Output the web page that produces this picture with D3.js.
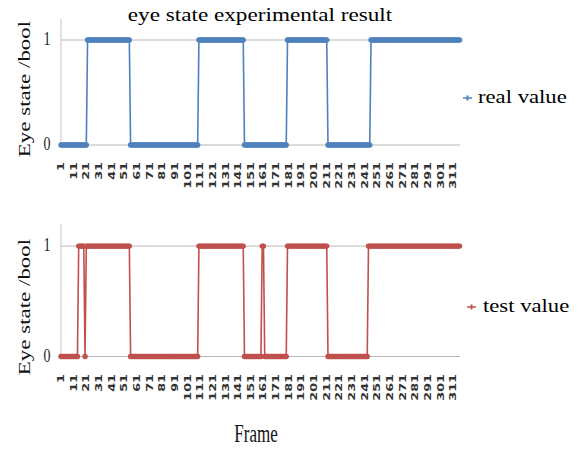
<!DOCTYPE html>
<html>
<head>
<meta charset="utf-8">
<script src="https://cdn.jsdelivr.net/npm/d3@7/dist/d3.min.js"></script>
<style>
  html, body { margin: 0; padding: 0; background: #fff; }
  svg { display: block; }
</style>
</head>
<body>
<svg id="chart" width="580" height="449"></svg>
<script>
// ---- Data (frames 1..316, one value per frame, 10 per row) ----
const realValue = [
  0,0,0,0,0,0,0,0,0,0,   // 1-10
  0,0,0,0,0,0,0,0,0,0,   // 11-20
  0,1,1,1,1,1,1,1,1,1,   // 21-30
  1,1,1,1,1,1,1,1,1,1,   // 31-40
  1,1,1,1,1,1,1,1,1,1,   // 41-50
  1,1,1,1,1,0,0,0,0,0,   // 51-60
  0,0,0,0,0,0,0,0,0,0,   // 61-70
  0,0,0,0,0,0,0,0,0,0,   // 71-80
  0,0,0,0,0,0,0,0,0,0,   // 81-90
  0,0,0,0,0,0,0,0,0,0,   // 91-100
  0,0,0,0,0,0,0,0,0,1,   // 101-110
  1,1,1,1,1,1,1,1,1,1,   // 111-120
  1,1,1,1,1,1,1,1,1,1,   // 121-130
  1,1,1,1,1,1,1,1,1,1,   // 131-140
  1,1,1,1,1,0,0,0,0,0,   // 141-150
  0,0,0,0,0,0,0,0,0,0,   // 151-160
  0,0,0,0,0,0,0,0,0,0,   // 161-170
  0,0,0,0,0,0,0,0,0,1,   // 171-180
  1,1,1,1,1,1,1,1,1,1,   // 181-190
  1,1,1,1,1,1,1,1,1,1,   // 191-200
  1,1,1,1,1,1,1,1,1,1,   // 201-210
  1,0,0,0,0,0,0,0,0,0,   // 211-220
  0,0,0,0,0,0,0,0,0,0,   // 221-230
  0,0,0,0,0,0,0,0,0,0,   // 231-240
  0,0,0,0,0,1,1,1,1,1,   // 241-250
  1,1,1,1,1,1,1,1,1,1,   // 251-260
  1,1,1,1,1,1,1,1,1,1,   // 261-270
  1,1,1,1,1,1,1,1,1,1,   // 271-280
  1,1,1,1,1,1,1,1,1,1,   // 281-290
  1,1,1,1,1,1,1,1,1,1,   // 291-300
  1,1,1,1,1,1,1,1,1,1,   // 301-310
  1,1,1,1,1,1            // 311-316
];
const testValue = [
  0,0,0,0,0,0,0,0,0,0,   // 1-10
  0,0,0,0,1,1,1,1,1,0,   // 11-20
  1,1,1,1,1,1,1,1,1,1,   // 21-30
  1,1,1,1,1,1,1,1,1,1,   // 31-40
  1,1,1,1,1,1,1,1,1,1,   // 41-50
  1,1,1,1,1,0,0,0,0,0,   // 51-60
  0,0,0,0,0,0,0,0,0,0,   // 61-70
  0,0,0,0,0,0,0,0,0,0,   // 71-80
  0,0,0,0,0,0,0,0,0,0,   // 81-90
  0,0,0,0,0,0,0,0,0,0,   // 91-100
  0,0,0,0,0,0,0,0,0,1,   // 101-110
  1,1,1,1,1,1,1,1,1,1,   // 111-120
  1,1,1,1,1,1,1,1,1,1,   // 121-130
  1,1,1,1,1,1,1,1,1,1,   // 131-140
  1,1,1,1,1,0,0,0,0,0,   // 141-150
  0,0,0,0,0,0,0,0,0,1,   // 151-160
  1,0,0,0,0,0,0,0,0,0,   // 161-170
  0,0,0,0,0,0,0,0,0,1,   // 171-180
  1,1,1,1,1,1,1,1,1,1,   // 181-190
  1,1,1,1,1,1,1,1,1,1,   // 191-200
  1,1,1,1,1,1,1,1,1,1,   // 201-210
  1,0,0,0,0,0,0,0,0,0,   // 211-220
  0,0,0,0,0,0,0,0,0,0,   // 221-230
  0,0,0,0,0,0,0,0,0,0,   // 231-240
  0,0,0,1,1,1,1,1,1,1,   // 241-250
  1,1,1,1,1,1,1,1,1,1,   // 251-260
  1,1,1,1,1,1,1,1,1,1,   // 261-270
  1,1,1,1,1,1,1,1,1,1,   // 271-280
  1,1,1,1,1,1,1,1,1,1,   // 281-290
  1,1,1,1,1,1,1,1,1,1,   // 291-300
  1,1,1,1,1,1,1,1,1,1,   // 301-310
  1,1,1,1,1,1            // 311-316
];
const frames = realValue.map((_, i) => i + 1);
const xTickLabels = [1,11,21,31,41,51,61,71,81,91,101,111,121,131,141,151,161,171,181,191,201,211,221,231,241,251,261,271,281,291,301,311];
const yTickValues = [0, 1];
const chartTitle = "eye state experimental result";
const yTitle = "Eye state /bool";
const xTitle = "Frame";
const seriesNames = ["real value", "test value"];
const seriesColors = ["#4F81BD", "#C0504D"];

// ---- Drawing ----
const svg = d3.select("#chart");
const SERIF = "'Liberation Serif', 'Times New Roman', serif";

const x = d3.scalePoint().domain(frames).range([61, 459.6]);

const panels = [
  { values: realValue, name: seriesNames[0], color: seriesColors[0],
    yRange: [145, 19], tickTop: 162, yTitleY: 89,
    legX: 463, legY: 98, legTextX: 478 },
  { values: testValue, name: seriesNames[1], color: seriesColors[1],
    yRange: [356.5, 224], tickTop: 374, yTitleY: 307,
    legX: 467, legY: 307, legTextX: 483 }
];

panels.forEach(p => {
  const y = d3.scaleLinear().domain([0, 1.2]).range(p.yRange);
  const g = svg.append("g");

  // y axis line
  g.append("line")
    .attr("x1", x(1)).attr("x2", x(1))
    .attr("y1", y(1.2)).attr("y2", y(0))
    .attr("stroke", "#c4c4c4").attr("stroke-width", 1);

  // gridlines
  g.selectAll(".grid").data(yTickValues).join("line")
    .attr("x1", x(1)).attr("x2", 460)
    .attr("y1", d => y(d)).attr("y2", d => y(d))
    .attr("stroke", "#b8b8b8").attr("stroke-width", 1);

  // y tick labels
  g.selectAll(".ytl").data(yTickValues).join("text")
    .attr("transform", d => `translate(47,${y(d) + 5}) scale(1,1.3)`)
    .attr("text-anchor", "middle")
    .attr("font-family", SERIF)
    .attr("font-size", 14)
    .attr("fill", "#222")
    .text(d => d);

  // x tick labels
  g.selectAll(".xtl").data(xTickLabels).join("text")
    .attr("transform", d => `translate(${x(d) + 3},${p.tickTop}) rotate(-90) scale(1.6,1)`)
    .attr("text-anchor", "end")
    .attr("font-family", "'DejaVu Sans', sans-serif")
    .attr("font-size", 8)
    .attr("font-weight", "bold")
    .attr("fill", "#333")
    .text(d => d);

  // series line
  const line = d3.line().x((d, i) => x(frames[i])).y(d => y(d));
  g.append("path").datum(p.values)
    .attr("d", line)
    .attr("fill", "none")
    .attr("stroke", p.color)
    .attr("stroke-width", 1.6);

  // markers
  g.selectAll(".mk").data(p.values).join("circle")
    .attr("cx", (d, i) => x(frames[i]))
    .attr("cy", d => y(d))
    .attr("r", 2.7)
    .attr("fill", p.color);

  // y title
  g.append("text")
    .attr("transform", `translate(30,${p.yTitleY}) rotate(-90) scale(1.35,1)`)
    .attr("text-anchor", "middle")
    .attr("font-family", SERIF)
    .attr("font-size", 17)
    .attr("fill", "#111")
    .text(yTitle);

  // legend
  g.append("line")
    .attr("x1", p.legX).attr("x2", p.legX + 9)
    .attr("y1", p.legY).attr("y2", p.legY)
    .attr("stroke", p.color).attr("stroke-width", 1.5);
  g.append("rect")
    .attr("x", p.legX + 3.5).attr("y", p.legY - 2.5)
    .attr("width", 2).attr("height", 5)
    .attr("fill", p.color);
  g.append("text")
    .attr("transform", `translate(${p.legTextX},${p.legY + 5}) scale(1.26,1)`)
    .attr("font-family", SERIF)
    .attr("font-size", 18)
    .attr("fill", "#000")
    .text(p.name);
});

// chart title
svg.append("text")
  .attr("transform", "translate(260,21) scale(1.22,1)")
  .attr("text-anchor", "middle")
  .attr("font-family", SERIF)
  .attr("font-size", 19)
  .attr("fill", "#000")
  .text(chartTitle);

// x title
svg.append("text")
  .attr("transform", "translate(256,442) scale(1,1.5)")
  .attr("text-anchor", "middle")
  .attr("font-family", SERIF)
  .attr("font-size", 17)
  .attr("fill", "#111")
  .text(xTitle);
</script>
</body>
</html>
